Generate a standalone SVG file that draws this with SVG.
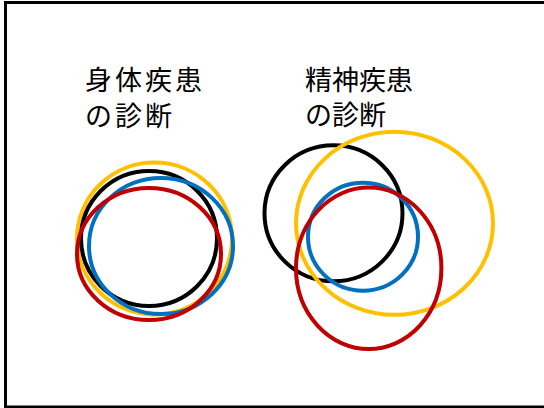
<svg xmlns="http://www.w3.org/2000/svg" width="544" height="408" viewBox="0 0 544 408">
<style>
.t{font-family:"Noto Sans CJK JP","Noto Sans CJK SC",sans-serif;font-size:27px;fill:#000}
.c{fill:none;stroke-width:4}
.k{stroke:#000}.y{stroke:#FFC000}.b{stroke:#0070C0}.r{stroke:#C00000}
</style>
<rect x="0" y="0" width="544" height="408" fill="#fff"/>
<rect x="5.5" y="2.5" width="545" height="404.5" fill="none" stroke="#000" stroke-width="3"/>
<g id="label-physical">
<text class="t" x="85" y="90" letter-spacing="3">身体疾患</text>
<text class="t" x="85" y="126" letter-spacing="3">の診断</text>
</g>
<g id="label-mental">
<text class="t" x="305" y="90">精神疾患</text>
<text class="t" x="305" y="125">の診断</text>
</g>
<g id="physical-circles">
<ellipse class="c y" cx="154.5" cy="238.5" rx="77.5" ry="76"/>
<ellipse class="c k" cx="149" cy="238.5" rx="68" ry="67.5"/>
<ellipse class="c b" cx="161" cy="246" rx="72" ry="68"/>
<ellipse class="c r" cx="149" cy="254" rx="72" ry="66"/>
</g>
<g id="mental-circles">
<ellipse class="c k" cx="333.5" cy="213.3" rx="69" ry="68"/>
<ellipse class="c y" cx="394.5" cy="223.3" rx="98.5" ry="91.5"/>
<ellipse class="c b" cx="363" cy="236.7" rx="55" ry="54"/>
<ellipse class="c r" cx="368.7" cy="268.3" rx="72.7" ry="80.7"/>
</g>
</svg>
